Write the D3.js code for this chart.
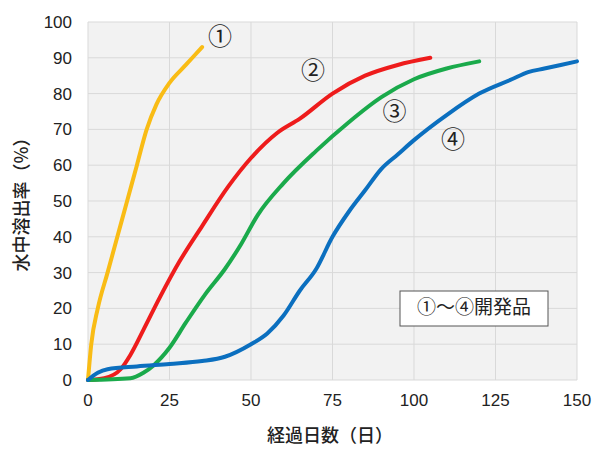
<!DOCTYPE html><html><head><meta charset="utf-8"><script src="https://cdn.jsdelivr.net/npm/d3@7"></script>
<style>body{margin:0;background:#fff}text{font-family:"Liberation Sans","Noto Sans CJK JP",Arial,sans-serif}.jp{font-family:"Noto Sans CJK JP",sans-serif}</style></head><body><svg id="c" width="600" height="449"></svg>
<script>
const xTicks=[0,25,50,75,100,125,150];
const yTicks=[0,10,20,30,40,50,60,70,80,90,100];
const s1=[[0,0],[1,10],[3,20],[6,30],[9,40],[12,50],[15,60],[18,70],[21,77],[25,83],[30,88],[35,93]];
const s2=[[0,0],[5,0.5],[10,3],[13,7],[17,14],[22,23],[28,33],[35,43],[43,54],[50,62],[58,69],[65,73],[75,80],[85,85],[95,88],[105,90]];
const s3=[[0,0],[13,0.5],[17,2],[20,4],[25,9],[30,16],[36,24],[42,31],[47,38],[52,46],[60,55],[70,64],[80,72],[90,79],[100,84],[110,87],[120,89]];
const s4=[[0,0],[3,2],[6,3],[15,3.8],[25,4.5],[35,5.3],[42,6.5],[50,10],[55,13],[60,18],[65,25],[70,31],[75,40],[80,47],[85,53],[90,59],[95,63],[100,67],[110,74],[120,80],[130,84],[135,86],[140,87],[150,89]];
const series=[{d:s1,c:"#f9bc15",l:"①",p:[40.5,95.5]},{d:s2,c:"#ee1c1c",l:"②",p:[69,86]},{d:s3,c:"#1aaa4b",l:"③",p:[94,74.5]},{d:s4,c:"#0b6fbf",l:"④",p:[112,66.5]}];
const svg=d3.select("#c");
const x=d3.scaleLinear().domain([0,150]).range([88,577]);
const y=d3.scaleLinear().domain([0,100]).range([380,22]);
svg.append("rect").attr("x",88).attr("y",22).attr("width",489).attr("height",358).attr("fill","#f2f2f2");
svg.append("g").selectAll("line").data(xTicks).join("line").attr("x1",x).attr("x2",x).attr("y1",22).attr("y2",380).attr("stroke","#d9d9d9");
svg.append("g").selectAll("line").data(yTicks).join("line").attr("y1",y).attr("y2",y).attr("x1",88).attr("x2",577).attr("stroke","#d9d9d9");
svg.append("g").selectAll("text").data(xTicks).join("text").attr("x",x).attr("y",406).attr("text-anchor","middle").attr("font-size",17).attr("fill","#222").text(d=>d);
svg.append("g").selectAll("text").data(yTicks).join("text").attr("x",72).attr("y",d=>y(d)+6).attr("text-anchor","end").attr("font-size",17).attr("fill","#222").text(d=>d);
const line=d3.line().x(d=>x(d[0])).y(d=>y(d[1])).curve(d3.curveMonotoneX);
series.forEach(s=>{
 svg.append("path").attr("d",line(s.d)).attr("fill","none").attr("stroke",s.c).attr("stroke-width",4).attr("stroke-linecap","round");
 svg.append("text").attr("class","jp").attr("x",x(s.p[0])).attr("y",y(s.p[1])).attr("text-anchor","middle").attr("dominant-baseline","middle").attr("font-size",24).attr("fill","#222").text(s.l);
});
svg.append("rect").attr("x",400).attr("y",291).attr("width",148).attr("height",35).attr("fill","#fff").attr("stroke","#555");
svg.append("text").attr("class","jp").attr("x",474).attr("y",309).attr("text-anchor","middle").attr("dominant-baseline","middle").attr("font-size",19).attr("fill","#222").text("①～④開発品");
svg.append("text").attr("class","jp").attr("x",330).attr("y",442).attr("text-anchor","middle").attr("font-size",18).attr("font-weight",500).attr("fill","#222").text("経過日数（日）");
svg.append("text").attr("class","jp").attr("transform","translate(28,200) rotate(-90)").attr("text-anchor","middle").attr("font-size",18).attr("font-weight",500).attr("fill","#222").text("水中溶出率（%）");
</script></body></html>
